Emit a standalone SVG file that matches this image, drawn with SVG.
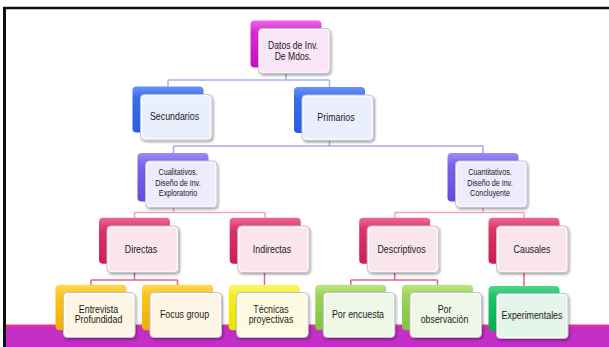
<svg xmlns="http://www.w3.org/2000/svg" width="609" height="347" viewBox="0 0 609 347">
<defs>
<linearGradient id="g-mag" x1="0" y1="0" x2="0" y2="1"><stop offset="0" stop-color="#ee66e8"/><stop offset="0.25" stop-color="#d92ad2"/><stop offset="1" stop-color="#c410bc"/></linearGradient>
<linearGradient id="g-blu" x1="0" y1="0" x2="0" y2="1"><stop offset="0" stop-color="#6892f4"/><stop offset="0.25" stop-color="#3a6eec"/><stop offset="1" stop-color="#275ee0"/></linearGradient>
<linearGradient id="g-pur" x1="0" y1="0" x2="0" y2="1"><stop offset="0" stop-color="#9c8ef4"/><stop offset="0.25" stop-color="#7664ec"/><stop offset="1" stop-color="#604ce0"/></linearGradient>
<linearGradient id="g-red" x1="0" y1="0" x2="0" y2="1"><stop offset="0" stop-color="#ee6a90"/><stop offset="0.25" stop-color="#dc3466"/><stop offset="1" stop-color="#cc1e54"/></linearGradient>
<linearGradient id="g-gold" x1="0" y1="0" x2="0" y2="1"><stop offset="0" stop-color="#ffd858"/><stop offset="0.25" stop-color="#fbc21a"/><stop offset="1" stop-color="#f2ae00"/></linearGradient>
<linearGradient id="g-yel" x1="0" y1="0" x2="0" y2="1"><stop offset="0" stop-color="#faf670"/><stop offset="0.25" stop-color="#f2ee20"/><stop offset="1" stop-color="#e8e400"/></linearGradient>
<linearGradient id="g-lgr" x1="0" y1="0" x2="0" y2="1"><stop offset="0" stop-color="#bce682"/><stop offset="0.25" stop-color="#98d458"/><stop offset="1" stop-color="#80c43c"/></linearGradient>
<linearGradient id="g-grn" x1="0" y1="0" x2="0" y2="1"><stop offset="0" stop-color="#4cd88c"/><stop offset="0.25" stop-color="#1cc266"/><stop offset="1" stop-color="#06ae4e"/></linearGradient>
<filter id="sh" x="-10%" y="-10%" width="125%" height="130%"><feDropShadow dx="1.2" dy="1.6" stdDeviation="0.9" flood-color="#000" flood-opacity="0.35"/></filter>
</defs>
<style>
.front{stroke:#c4c4ce;stroke-width:1;filter:url(#sh)}
.hi{fill:none;stroke:#ffffff;stroke-width:1;opacity:0.85}
.lbl{font-family:"Liberation Sans",Arial,sans-serif;font-size:10.4px;fill:#1a1a1a;text-anchor:middle}
.l1{font-size:10.1px}
.l3{font-size:9px}
.c1{fill:none;stroke:#9db6f2;stroke-width:1.5}
.c2{fill:none;stroke:#aca4f2;stroke-width:1.5}
.c3{fill:none;stroke:#f2a2bc;stroke-width:1.5}
.c4{fill:none;stroke:#e4608e;stroke-width:1.5}
</style>
<rect x="0" y="0" width="609" height="347" fill="#ffffff"/>
<!-- bottom band -->
<rect x="5" y="325" width="604" height="22" fill="#c22ec6"/>
<rect x="5" y="324.5" width="604" height="2.5" fill="#e0368e"/>
<!-- frame -->
<line x1="3" y1="8" x2="609" y2="8" stroke="#111" stroke-width="2.5"/>
<line x1="4.5" y1="7" x2="4.5" y2="347" stroke="#111" stroke-width="3"/>

<g id="connectors">
<path class="c1" d="M286 73 V80 M168 80 H329.5 M168 80 V86.5 M329.5 80 V87"/>
<path class="c2" d="M329.5 140.5 V146 M173.5 146 H483 M173.5 146 V153 M483 146 V153"/>
<path class="c3" d="M173.5 207.5 V212.5 M134.5 212.5 H265.2 M134.5 212.5 V218 M265.2 212.5 V218 M483 207.5 V212.5 M394.7 212.5 H524 M394.7 212.5 V218 M524 212.5 V218"/>
<path class="c4" d="M134.5 272.5 V280 M91 280 H177.5 M91 280 V285 M177.5 280 V285 M264.5 272.5 V285 M394.7 272.5 V280 M350.8 280 H437.5 M350.8 280 V285 M437.5 280 V285 M524 272.5 V286"/>
</g>

<g id="n-datos">
<rect x="250.5" y="20.5" width="71" height="47" rx="4" fill="url(#g-mag)"/>
<rect class="front" x="258.5" y="28.5" width="71.5" height="45" rx="4" fill="#f9e5f6"/>
<rect class="hi" x="259.8" y="29.8" width="68.9" height="42.4" rx="3"/>
<text class="lbl l1" transform="translate(293 0) scale(0.85 1)" x="0" y="49">Datos de Inv.</text>
<text class="lbl l1" transform="translate(293 0) scale(0.85 1)" x="0" y="60.2">De Mdos.</text>
</g>

<g id="n-secundarios">
<rect x="132.5" y="86.5" width="71" height="46" rx="4" fill="url(#g-blu)"/>
<rect class="front" x="140.5" y="94.5" width="71.5" height="45.5" rx="4" fill="#e9effc"/>
<rect class="hi" x="141.8" y="95.8" width="68.9" height="42.9" rx="3"/>
<text class="lbl" transform="translate(174.5 0) scale(0.85 1)" x="0" y="120.3">Secundarios</text>
</g>

<g id="n-primarios">
<rect x="294" y="87" width="71" height="46" rx="4" fill="url(#g-blu)"/>
<rect class="front" x="302" y="95" width="71.5" height="45.5" rx="4" fill="#e9effc"/>
<rect class="hi" x="303.3" y="96.3" width="68.9" height="42.9" rx="3"/>
<text class="lbl" transform="translate(336 0) scale(0.85 1)" x="0" y="120.8">Primarios</text>
</g>

<g id="n-cualitativos">
<rect x="137.5" y="153" width="71" height="48.5" rx="4" fill="url(#g-pur)"/>
<rect class="front" x="145.5" y="161" width="71.5" height="46.5" rx="4" fill="#eeebfc"/>
<rect class="hi" x="146.8" y="162.3" width="68.9" height="43.9" rx="3"/>
<text class="lbl l3" transform="translate(178 0) scale(0.8 1)" x="0" y="175.5">Cualitativos.</text>
<text class="lbl l3" transform="translate(178 0) scale(0.8 1)" x="0" y="185.8">Diseño de Inv.</text>
<text class="lbl l3" transform="translate(178 0) scale(0.8 1)" x="0" y="196.1">Exploratorio</text>
</g>

<g id="n-cuantitativos">
<rect x="447.5" y="153" width="71" height="48.5" rx="4" fill="url(#g-pur)"/>
<rect class="front" x="455.5" y="161" width="71.5" height="46.5" rx="4" fill="#eeebfc"/>
<rect class="hi" x="456.8" y="162.3" width="68.9" height="43.9" rx="3"/>
<text class="lbl l3" transform="translate(490 0) scale(0.8 1)" x="0" y="175.5">Cuantitativos.</text>
<text class="lbl l3" transform="translate(490 0) scale(0.8 1)" x="0" y="185.8">Diseño de Inv.</text>
<text class="lbl l3" transform="translate(490 0) scale(0.8 1)" x="0" y="196.1">Concluyente</text>
</g>

<g id="n-directas">
<rect x="99" y="217.7" width="71" height="46" rx="4" fill="url(#g-red)"/>
<rect class="front" x="107" y="226" width="71.5" height="46.5" rx="4" fill="#fbe5ed"/>
<rect class="hi" x="108.3" y="227.3" width="68.9" height="43.9" rx="3"/>
<text class="lbl" transform="translate(141 0) scale(0.85 1)" x="0" y="253">Directas</text>
</g>

<g id="n-indirectas">
<rect x="229.7" y="217.7" width="71" height="46" rx="4" fill="url(#g-red)"/>
<rect class="front" x="237.7" y="226" width="71.5" height="46.5" rx="4" fill="#fbe5ed"/>
<rect class="hi" x="239" y="227.3" width="68.9" height="43.9" rx="3"/>
<text class="lbl" transform="translate(272 0) scale(0.85 1)" x="0" y="253">Indirectas</text>
</g>

<g id="n-descriptivos">
<rect x="359.2" y="217.7" width="71" height="46" rx="4" fill="url(#g-red)"/>
<rect class="front" x="367.2" y="226" width="71.5" height="46.5" rx="4" fill="#fbe5ed"/>
<rect class="hi" x="368.5" y="227.3" width="68.9" height="43.9" rx="3"/>
<text class="lbl" transform="translate(401.5 0) scale(0.85 1)" x="0" y="253">Descriptivos</text>
</g>

<g id="n-causales">
<rect x="488.5" y="217.7" width="71" height="46" rx="4" fill="url(#g-red)"/>
<rect class="front" x="496.5" y="226" width="71.5" height="46.5" rx="4" fill="#fbe5ed"/>
<rect class="hi" x="497.8" y="227.3" width="68.9" height="43.9" rx="3"/>
<text class="lbl" transform="translate(532 0) scale(0.85 1)" x="0" y="253">Causales</text>
</g>

<g id="n-entrevista">
<rect x="55.5" y="284.8" width="71" height="45.5" rx="4" fill="url(#g-gold)"/>
<rect class="front" x="63.5" y="292.5" width="71.5" height="45" rx="4" fill="#fdf6e4"/>
<rect class="hi" x="64.8" y="293.8" width="68.9" height="42.4" rx="3"/>
<text class="lbl" transform="translate(98.5 0) scale(0.85 1)" x="0" y="312.8">Entrevista</text>
<text class="lbl" transform="translate(98.5 0) scale(0.85 1)" x="0" y="323.3">Profundidad</text>
</g>

<g id="n-focus">
<rect x="142" y="284.8" width="71" height="45.5" rx="4" fill="url(#g-gold)"/>
<rect class="front" x="150" y="292.5" width="71.5" height="45" rx="4" fill="#fdf6e4"/>
<rect class="hi" x="151.3" y="293.8" width="68.9" height="42.4" rx="3"/>
<text class="lbl" transform="translate(184.5 0) scale(0.85 1)" x="0" y="318.2">Focus group</text>
</g>

<g id="n-tecnicas">
<rect x="228.7" y="284.8" width="71" height="45.5" rx="4" fill="url(#g-yel)"/>
<rect class="front" x="236.7" y="292.5" width="71.5" height="45" rx="4" fill="#fdfce2"/>
<rect class="hi" x="238" y="293.8" width="68.9" height="42.4" rx="3"/>
<text class="lbl" transform="translate(271 0) scale(0.85 1)" x="0" y="312.8">Técnicas</text>
<text class="lbl" transform="translate(271 0) scale(0.85 1)" x="0" y="323.3">proyectivas</text>
</g>

<g id="n-encuesta">
<rect x="315.3" y="284.8" width="71" height="45.5" rx="4" fill="url(#g-lgr)"/>
<rect class="front" x="323.3" y="292.5" width="71.5" height="45" rx="4" fill="#eff8e6"/>
<rect class="hi" x="324.6" y="293.8" width="68.9" height="42.4" rx="3"/>
<text class="lbl" transform="translate(358 0) scale(0.85 1)" x="0" y="318.2">Por encuesta</text>
</g>

<g id="n-observacion">
<rect x="402" y="284.8" width="71" height="45.5" rx="4" fill="url(#g-lgr)"/>
<rect class="front" x="410" y="292.5" width="71.5" height="45" rx="4" fill="#eff8e6"/>
<rect class="hi" x="411.3" y="293.8" width="68.9" height="42.4" rx="3"/>
<text class="lbl" transform="translate(444.5 0) scale(0.85 1)" x="0" y="312.8">Por</text>
<text class="lbl" transform="translate(444.5 0) scale(0.85 1)" x="0" y="323.3">observación</text>
</g>

<g id="n-experimentales">
<rect x="488.5" y="286" width="71" height="45" rx="4" fill="url(#g-grn)"/>
<rect class="front" x="496.5" y="293.5" width="71.5" height="45" rx="4" fill="#e4f5ea"/>
<rect class="hi" x="497.8" y="294.8" width="68.9" height="42.4" rx="3"/>
<text class="lbl" transform="translate(532 0) scale(0.85 1)" x="0" y="318.7">Experimentales</text>
</g>
</svg>
